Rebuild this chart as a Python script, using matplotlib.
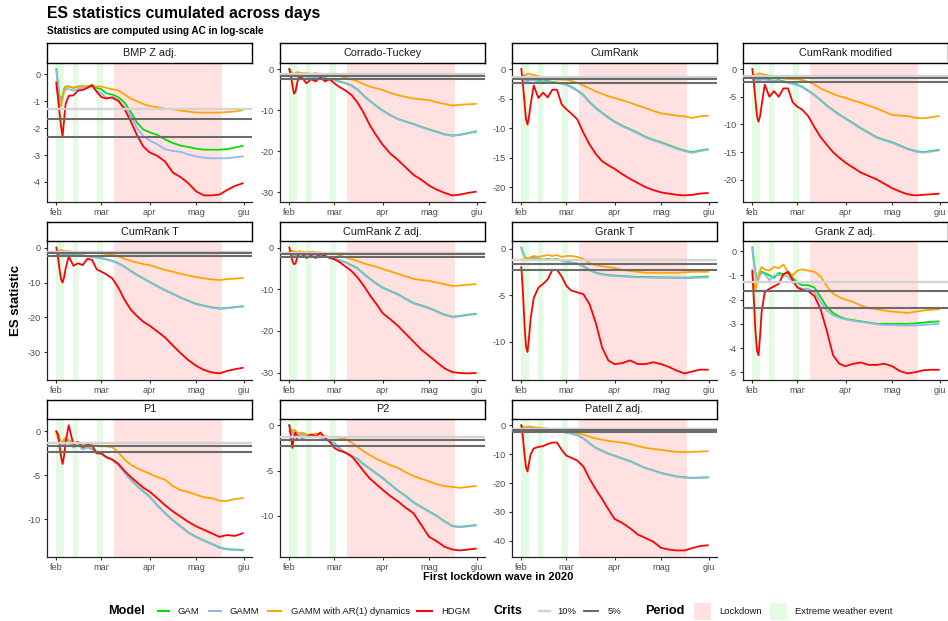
import numpy as np
import matplotlib
matplotlib.use("Agg")
import matplotlib.pyplot as plt
import matplotlib.dates as mdates
from matplotlib.lines import Line2D
from matplotlib.patches import Rectangle

plt.rcParams['font.family'] = ['Liberation Sans', 'DejaVu Sans']
plt.rcParams['axes.unicode_minus'] = False

# ---------------- data ----------------
START_DATE = '2020-02-01'
DAY_OFFSETS = [0, 1, 2, 3, 4, 5, 6,
               8, 11, 14, 17, 20, 23, 26, 29,
               32, 36, 40, 44, 48, 52, 56, 60,
               65, 70, 75, 80, 85, 90, 95, 100, 105, 110, 115, 120]

MONTH_TICKS = ['2020-02-01', '2020-03-01', '2020-04-01', '2020-05-01', '2020-06-01']
MONTH_LABELS = ['feb', 'mar', 'apr', 'mag', 'giu']

LOCKDOWN = [('2020-03-09', '2020-05-18')]
EXTREME_WEATHER = [('2020-02-01', '2020-02-06'), ('2020-02-12', '2020-02-15'),
                   ('2020-02-27', '2020-03-02')]

CRIT_10 = [-1.2816]
CRIT_5 = [-1.6449, -2.3263]

MODELS = ['GAM', 'GAMM', 'GAMM with AR(1) dynamics', 'HDGM']

BMP_GAM = [0.2, -0.3, -0.8, -1.0, -0.8, -0.55, -0.45,
           -0.45, -0.5, -0.45, -0.45, -0.45, -0.4, -0.5, -0.55,
           -0.7, -0.75, -0.85, -1.05, -1.4, -1.8, -2.05, -2.15,
           -2.25, -2.42, -2.55, -2.65, -2.7, -2.76, -2.8, -2.8, -2.8, -2.78, -2.72, -2.66]
BMP_GAMM = [0.15, -0.35, -0.85, -1.05, -0.9, -0.65, -0.55,
            -0.55, -0.6, -0.55, -0.5, -0.5, -0.45, -0.6, -0.7,
            -0.85, -0.9, -1.0, -1.2, -1.55, -2.0, -2.3, -2.45,
            -2.6, -2.78, -2.85, -2.88, -2.98, -3.05, -3.1, -3.12, -3.12, -3.12, -3.08, -3.05]
BMP_AR1 = [-0.4, -0.8, -1.1, -1.2, -0.9, -0.6, -0.45,
           -0.45, -0.5, -0.45, -0.45, -0.45, -0.4, -0.45, -0.45,
           -0.5, -0.55, -0.6, -0.75, -0.9, -1.0, -1.1, -1.18,
           -1.22, -1.28, -1.3, -1.35, -1.38, -1.42, -1.42, -1.42, -1.42, -1.4, -1.38, -1.33]
BMP_HDGM = [-0.3, -0.8, -1.4, -1.9, -2.3, -1.7, -1.1,
            -0.8, -0.78, -0.6, -0.58, -0.5, -0.4, -0.65, -0.84,
            -0.9, -0.85, -0.98, -1.3, -1.75, -2.27, -2.68, -2.9,
            -3.03, -3.24, -3.65, -3.82, -4.05, -4.35, -4.5, -4.5, -4.47, -4.3, -4.15, -4.05]

CT_GAM = [0, -0.5, -1.2, -1.5, -1.5, -1.5, -1.5,
          -1.5, -1.8, -1.8, -2.0, -2.0, -2.2, -2.5, -2.7,
          -3.0, -3.4, -4.0, -5.0, -6.5, -7.8, -9.0, -10.1,
          -11.2, -12.2, -12.8, -13.4, -14.1, -14.7, -15.3, -15.9, -16.2, -16.0, -15.6, -15.3]
CT_GAMM = [-0.1, -0.6, -1.3, -1.6, -1.6, -1.6, -1.6,
           -1.6, -1.9, -1.9, -2.1, -2.1, -2.3, -2.6, -2.8,
           -3.1, -3.5, -4.1, -5.1, -6.6, -7.9, -9.1, -10.2,
           -11.3, -12.2, -12.9, -13.5, -14.2, -14.8, -15.4, -16.0, -16.3, -16.1, -15.7, -15.1]
CT_AR1 = [-0.5, -1.0, -1.5, -1.2, -1.0, -0.8, -0.8,
          -1.0, -1.0, -1.2, -1.0, -1.2, -1.3, -1.3, -1.4,
          -1.7, -2.1, -2.5, -3.0, -3.7, -4.3, -4.7, -5.1,
          -5.8, -6.4, -6.8, -7.2, -7.4, -7.6, -8.1, -8.5, -8.9, -8.7, -8.6, -8.5]
CT_HDGM = [0, -1.5, -4.0, -6.0, -5.5, -3.5, -2.0,
           -2.0, -3.5, -2.5, -3.0, -2.0, -3.0, -2.5, -3.5,
           -4.3, -5.2, -6.3, -8.2, -10.8, -13.8, -16.2, -18.4,
           -20.6, -22.2, -24.0, -25.8, -27.0, -28.4, -29.4, -30.2, -30.8, -30.6, -30.2, -29.9]

CR_GAM = [-1.5, -1.6, -1.8, -1.9, -2.0, -1.9, -1.8,
          -1.8, -2.0, -2.1, -2.0, -2.2, -2.3, -2.4, -2.6,
          -3.0, -3.6, -4.4, -5.6, -6.6, -7.4, -8.2, -8.9,
          -9.6, -10.2, -10.8, -11.5, -12.0, -12.4, -12.9, -13.4, -13.8, -14.1, -13.8, -13.6]
CR_GAMM = [-1.6, -1.7, -1.9, -2.0, -2.1, -2.0, -1.9,
           -1.9, -2.1, -2.2, -2.1, -2.3, -2.4, -2.5, -2.7,
           -3.1, -3.7, -4.5, -5.7, -6.7, -7.5, -8.3, -9.0,
           -9.7, -10.3, -10.9, -11.6, -12.1, -12.5, -13.0, -13.5, -13.9, -14.2, -13.9, -13.7]
CR_AR1 = [-1.5, -1.2, -1.0, -1.0, -0.8, -0.8, -0.9,
          -1.0, -1.2, -1.5, -1.6, -1.7, -1.8, -1.8, -1.8,
          -2.0, -2.3, -2.8, -3.3, -3.8, -4.2, -4.6, -4.9,
          -5.3, -5.7, -6.2, -6.6, -7.1, -7.5, -7.7, -7.9, -8.0, -8.3, -8.0, -7.9]
CR_HDGM = [0, -2.5, -5.5, -8.5, -9.4, -8.0, -6.0,
           -2.8, -4.9, -4.0, -4.8, -3.5, -3.5, -6.0, -6.8,
           -7.5, -8.5, -10.8, -12.8, -14.4, -15.6, -16.3, -16.9,
           -17.8, -18.6, -19.3, -20.0, -20.5, -20.9, -21.1, -21.3, -21.4, -21.3, -21.1, -21.0]

CRM_GAM = [-1.5, -1.6, -1.8, -1.9, -2.0, -1.9, -1.8,
           -1.8, -2.0, -2.1, -2.0, -2.2, -2.4, -2.6, -2.8,
           -3.2, -3.9, -4.7, -5.6, -6.6, -7.4, -8.2, -8.9,
           -9.8, -10.7, -11.5, -12.3, -12.8, -13.2, -13.8, -14.4, -14.8, -15.0, -14.8, -14.6]
CRM_GAMM = [-1.6, -1.7, -1.9, -2.0, -2.1, -2.0, -1.9,
            -1.9, -2.1, -2.2, -2.1, -2.3, -2.5, -2.7, -2.9,
            -3.3, -4.0, -4.8, -5.7, -6.7, -7.5, -8.3, -9.0,
            -9.9, -10.8, -11.6, -12.4, -12.9, -13.3, -13.9, -14.5, -14.9, -15.1, -14.9, -14.7]
CRM_AR1 = [-1.5, -1.2, -1.0, -1.0, -0.8, -0.8, -0.9,
           -1.0, -1.2, -1.5, -1.6, -1.7, -1.8, -1.8, -1.8,
           -2.0, -2.3, -2.8, -3.5, -4.0, -4.5, -4.9, -5.2,
           -5.7, -6.1, -6.6, -7.1, -7.7, -8.3, -8.4, -8.5, -8.8, -8.9, -8.7, -8.5]
CRM_HDGM = [0, -2.5, -5.5, -8.5, -9.5, -8.5, -6.5,
            -2.8, -5.0, -4.0, -5.0, -3.5, -3.5, -6.0, -6.8,
            -7.3, -8.5, -10.5, -12.3, -13.7, -15.0, -16.0, -16.9,
            -17.8, -18.7, -19.3, -19.9, -20.7, -21.5, -22.1, -22.6, -22.8, -22.7, -22.6, -22.5]

CRT_GAM = [-1.5, -1.6, -1.8, -2.0, -2.1, -2.0, -1.9,
           -1.9, -2.1, -2.2, -2.2, -2.4, -2.6, -2.8, -3.0,
           -3.3, -3.8, -4.5, -5.5, -6.7, -7.8, -8.8, -9.8,
           -11.0, -12.2, -13.2, -14.3, -15.2, -16.1, -16.6, -17.1, -17.4, -17.3, -17.0, -16.8]
CRT_GAMM = [-1.6, -1.7, -1.9, -2.1, -2.2, -2.1, -2.0,
            -2.0, -2.2, -2.3, -2.3, -2.5, -2.7, -2.9, -3.1,
            -3.4, -3.9, -4.6, -5.6, -6.8, -7.9, -8.9, -9.9,
            -11.1, -12.3, -13.3, -14.4, -15.3, -16.2, -16.7, -17.2, -17.5, -17.4, -17.1, -16.9]
CRT_AR1 = [-1.2, -1.0, -0.8, -0.7, -0.8, -0.9, -1.0,
           -1.1, -1.2, -1.3, -1.2, -1.4, -1.5, -1.5, -1.6,
           -1.8, -2.0, -2.5, -3.2, -3.8, -4.3, -4.7, -5.0,
           -5.7, -6.4, -6.9, -7.5, -8.0, -8.4, -8.8, -9.1, -9.3, -9.0, -8.9, -8.7]
CRT_HDGM = [0, -2.5, -6.0, -9.0, -10.0, -8.5, -6.0,
            -2.5, -5.2, -4.5, -5.0, -3.2, -3.5, -6.2, -6.9,
            -7.6, -8.8, -11.5, -15.0, -17.8, -19.6, -21.2, -22.3,
            -24.0, -25.7, -28.0, -30.2, -32.2, -33.8, -35.0, -35.7, -36.0, -35.3, -34.8, -34.4]

CRZ_GAM = [-1.5, -1.5, -1.6, -1.7, -1.7, -1.6, -1.6,
           -1.7, -1.8, -1.8, -1.9, -2.0, -2.1, -2.3, -2.6,
           -3.0, -3.5, -4.2, -5.0, -6.3, -7.5, -8.6, -9.6,
           -10.4, -11.2, -12.3, -13.3, -13.9, -14.5, -15.3, -16.1, -16.6, -16.4, -16.1, -15.9]
CRZ_GAMM = [-1.6, -1.6, -1.7, -1.8, -1.8, -1.7, -1.7,
            -1.8, -1.9, -1.9, -2.0, -2.1, -2.2, -2.4, -2.7,
            -3.1, -3.6, -4.3, -5.1, -6.4, -7.6, -8.7, -9.7,
            -10.5, -11.3, -12.4, -13.4, -14.0, -14.6, -15.4, -16.2, -16.7, -16.5, -16.2, -16.0]
CRZ_AR1 = [-1.0, -0.9, -0.8, -0.9, -1.0, -1.0, -0.9,
           -1.0, -1.1, -1.0, -1.1, -1.2, -1.3, -1.3, -1.4,
           -1.8, -2.3, -2.8, -3.2, -3.8, -4.2, -4.6, -5.1,
           -5.7, -6.3, -6.9, -7.5, -7.8, -8.0, -8.4, -8.8, -9.2, -9.1, -8.9, -8.8]
CRZ_HDGM = [0, -1.5, -3.2, -4.0, -3.8, -2.5, -1.5,
            -1.5, -2.5, -2.0, -2.5, -1.5, -2.0, -2.5, -2.8,
            -3.4, -4.5, -5.6, -7.2, -9.2, -11.5, -13.5, -15.7,
            -17.2, -18.8, -20.7, -22.6, -24.5, -26.0, -27.5, -29.0, -29.9, -30.1, -30.2, -30.1]

GT_GAM = [0.1, -0.4, -0.8, -1.1, -1.2, -1.1, -1.0,
          -1.0, -1.1, -1.2, -1.1, -1.2, -1.1, -1.3, -1.4,
          -1.5, -1.6, -1.9, -2.3, -2.6, -2.75, -2.85, -2.9,
          -2.95, -3.0, -3.05, -3.05, -3.08, -3.1, -3.1, -3.12, -3.12, -3.1, -3.05, -3.0]
GT_GAMM = [0.05, -0.45, -0.85, -1.15, -1.25, -1.15, -1.05,
           -1.05, -1.15, -1.25, -1.15, -1.25, -1.15, -1.35, -1.45,
           -1.55, -1.65, -1.95, -2.35, -2.65, -2.8, -2.9, -2.95,
           -3.0, -3.05, -3.1, -3.1, -3.13, -3.15, -3.15, -3.17, -3.17, -3.17, -3.13, -3.1]
GT_AR1 = [-1.2, -1.2, -1.1, -1.0, -1.0, -1.1, -0.9,
          -0.8, -0.9, -0.8, -0.7, -0.8, -0.7, -0.9, -0.8,
          -0.8, -0.9, -1.1, -1.6, -1.8, -1.9, -2.0, -2.1,
          -2.3, -2.4, -2.5, -2.6, -2.6, -2.6, -2.6, -2.6, -2.55, -2.5, -2.5, -2.5]
GT_HDGM = [-2.0, -4.5, -8.0, -10.5, -11.1, -9.5, -7.5,
           -5.3, -4.2, -3.8, -3.3, -2.3, -2.3, -3.0, -4.0,
           -4.5, -4.7, -4.9, -6.0, -8.0, -10.6, -12.0, -12.4,
           -12.3, -12.0, -12.4, -12.4, -12.2, -12.4, -12.7, -13.1, -13.4, -13.2, -13.0, -13.0]

GZ_GAM = [0.15, -0.4, -0.9, -1.2, -1.1, -0.9, -0.85,
          -0.9, -1.0, -1.1, -0.9, -0.95, -0.9, -1.1, -1.3,
          -1.4, -1.4, -1.5, -1.9, -2.3, -2.55, -2.7, -2.8,
          -2.85, -2.9, -2.95, -3.0, -3.0, -3.0, -3.0, -3.0, -2.98, -2.95, -2.92, -2.9]
GZ_GAMM = [0.1, -0.45, -0.95, -1.25, -1.15, -1.0, -0.9,
           -0.95, -1.2, -1.0, -1.0, -1.0, -1.05, -1.3, -1.45,
           -1.55, -1.55, -1.7, -2.1, -2.45, -2.65, -2.75, -2.82,
           -2.88, -2.92, -2.97, -3.02, -3.05, -3.05, -3.07, -3.07, -3.07, -3.05, -3.02, -3.0]
GZ_AR1 = [-0.9, -1.3, -1.6, -1.3, -1.0, -0.8, -0.65,
          -0.75, -0.8, -0.65, -0.7, -0.55, -0.85, -1.0, -0.8,
          -0.75, -0.8, -0.85, -1.05, -1.45, -1.75, -1.9, -2.0,
          -2.1, -2.25, -2.35, -2.4, -2.45, -2.5, -2.52, -2.55, -2.5, -2.45, -2.42, -2.4]
GZ_HDGM = [-0.8, -2.0, -3.3, -4.1, -4.3, -3.5, -2.5,
           -1.7, -1.55, -1.45, -1.35, -0.95, -0.85, -1.2, -1.5,
           -1.6, -1.65, -1.85, -2.4, -3.3, -4.3, -4.65, -4.75,
           -4.65, -4.6, -4.7, -4.7, -4.65, -4.75, -4.95, -5.05, -5.0, -4.92, -4.9, -4.9]

P1_GAM = [0, -0.3, -0.8, -1.3, -1.5, -1.2, -1.0,
          -1.3, -1.8, -1.5, -2.0, -1.8, -2.0, -2.3, -2.5,
          -2.9, -3.2, -3.8, -4.7, -5.5, -6.2, -6.8, -7.4,
          -8.4, -9.3, -10.1, -10.8, -11.5, -12.0, -12.4, -12.8, -13.2, -13.4, -13.45, -13.5]
P1_GAMM = [0, -0.35, -0.85, -1.35, -1.55, -1.25, -1.05,
           -1.35, -1.85, -1.55, -2.05, -1.85, -2.05, -2.35, -2.55,
           -2.95, -3.25, -3.85, -4.75, -5.55, -6.25, -6.85, -7.45,
           -8.45, -9.35, -10.15, -10.85, -11.55, -12.05, -12.45, -12.85, -13.25, -13.45, -13.5, -13.55]
P1_AR1 = [-0.3, -0.7, -1.0, -1.3, -1.1, -0.9, -0.7,
          -1.0, -1.3, -1.2, -1.5, -1.5, -1.6, -1.6, -1.7,
          -1.7, -1.8, -2.4, -3.2, -3.8, -4.2, -4.5, -4.8,
          -5.2, -5.5, -6.2, -6.7, -6.9, -7.2, -7.5, -7.6, -7.9, -7.9, -7.7, -7.6]
P1_HDGM = [0, -0.3, -1.5, -2.8, -3.7, -2.8, -1.2,
           0.7, -1.5, -1.2, -1.8, -1.5, -1.6, -2.5, -2.5,
           -2.9, -3.2, -3.7, -4.5, -5.2, -5.8, -6.4, -6.85,
           -7.6, -8.4, -9.1, -9.7, -10.3, -10.8, -11.2, -11.6, -12.0, -11.8, -11.9, -11.6]

P2_GAM = [0, -0.5, -0.9, -0.8, -0.7, -0.9, -1.0,
          -1.0, -1.2, -1.1, -1.2, -1.3, -1.5, -1.8, -2.0,
          -2.5, -3.0, -3.4, -3.7, -4.3, -4.8, -5.3, -5.8,
          -6.5, -7.2, -7.8, -8.5, -9.0, -9.5, -10.0, -10.6, -11.1, -11.2, -11.1, -11.0]
P2_GAMM = [-0.05, -0.55, -0.95, -0.85, -0.75, -0.95, -1.05,
           -1.05, -1.25, -1.15, -1.25, -1.35, -1.55, -1.85, -2.05,
           -2.55, -3.05, -3.45, -3.75, -4.35, -4.85, -5.35, -5.85,
           -6.55, -7.25, -7.85, -8.55, -9.05, -9.55, -10.05, -10.65, -11.15, -11.25, -11.15, -11.05]
P2_AR1 = [-0.7, -0.5, -0.6, -0.5, -0.6, -0.8, -0.9,
          -0.8, -1.0, -1.1, -0.9, -1.1, -1.2, -1.3, -1.3,
          -1.4, -1.5, -1.9, -2.4, -2.9, -3.3, -3.7, -4.0,
          -4.4, -4.7, -5.2, -5.6, -5.9, -6.2, -6.5, -6.7, -6.8, -6.9, -6.8, -6.7]
P2_HDGM = [0, -1.2, -2.5, -1.2, -0.8, -1.5, -1.2,
           -1.4, -1.3, -1.0, -1.2, -0.8, -1.4, -1.8, -2.5,
           -2.8, -3.0, -3.4, -4.2, -5.1, -5.9, -6.5, -7.1,
           -7.8, -8.4, -9.1, -9.7, -11.0, -12.3, -12.8, -13.4, -13.7, -13.8, -13.7, -13.6]

PZ_GAM = [0, -0.5, -1.0, -1.2, -1.0, -0.8, -0.8,
          -1.0, -1.0, -1.2, -1.5, -1.5, -1.8, -2.0, -2.5,
          -2.8, -3.4, -4.5, -6.3, -7.8, -8.8, -9.8, -10.5,
          -11.5, -12.4, -13.6, -14.8, -15.6, -16.5, -17.1, -17.7, -18.0, -18.2, -18.1, -18.0]
PZ_GAMM = [-0.1, -0.6, -1.1, -1.3, -1.1, -0.9, -0.9,
           -1.1, -1.1, -1.3, -1.6, -1.6, -1.9, -2.1, -2.6,
           -2.9, -3.5, -4.6, -6.4, -7.9, -8.9, -9.9, -10.6,
           -11.6, -12.5, -13.7, -14.9, -15.7, -16.6, -17.2, -17.8, -18.1, -18.3, -18.2, -18.1]
PZ_AR1 = [-1.0, -0.8, -0.7, -0.5, -0.5, -0.4, -0.5,
          -0.7, -0.8, -1.0, -1.2, -1.3, -1.5, -1.8, -2.0,
          -2.3, -2.8, -3.2, -4.0, -4.6, -5.0, -5.4, -5.7,
          -6.0, -6.5, -7.2, -7.8, -8.2, -8.5, -8.9, -9.2, -9.3, -9.2, -9.1, -9.0]
PZ_HDGM = [0, -4.0, -10.0, -14.5, -16.0, -13.0, -10.0,
           -8.0, -7.5, -7.2, -6.5, -6.0, -6.0, -8.5, -10.5,
           -11.2, -12.2, -14.3, -18.6, -22.2, -25.5, -29.0, -32.4,
           -33.8, -35.6, -37.8, -39.0, -40.3, -42.4, -43.0, -43.3, -43.3, -42.5, -41.8, -41.5]

PANEL_TITLES = ['BMP Z adj.', 'Corrado-Tuckey', 'CumRank', 'CumRank modified',
                'CumRank T', 'CumRank Z adj.', 'Grank T', 'Grank Z adj.',
                'P1', 'P2', 'Patell Z adj.']
PANEL_SERIES = [
    (BMP_GAM, BMP_GAMM, BMP_AR1, BMP_HDGM),
    (CT_GAM, CT_GAMM, CT_AR1, CT_HDGM),
    (CR_GAM, CR_GAMM, CR_AR1, CR_HDGM),
    (CRM_GAM, CRM_GAMM, CRM_AR1, CRM_HDGM),
    (CRT_GAM, CRT_GAMM, CRT_AR1, CRT_HDGM),
    (CRZ_GAM, CRZ_GAMM, CRZ_AR1, CRZ_HDGM),
    (GT_GAM, GT_GAMM, GT_AR1, GT_HDGM),
    (GZ_GAM, GZ_GAMM, GZ_AR1, GZ_HDGM),
    (P1_GAM, P1_GAMM, P1_AR1, P1_HDGM),
    (P2_GAM, P2_GAMM, P2_AR1, P2_HDGM),
    (PZ_GAM, PZ_GAMM, PZ_AR1, PZ_HDGM),
]

# ---------------- style ----------------
MODEL_COLORS = ['#00E000', '#8FB9EE', '#FFA500', '#FF0000']
CRIT10_COLOR = '#D3D3D3'
CRIT5_COLOR = '#6B6B6B'
LOCK_COLOR = '#FFE1E1'
EXTREME_COLOR = '#E2FBE2'
Y_STEPS = [1, 10, 5, 5, 10, 10, 5, 1, 5, 5, 10]

W, H = 948, 621
LEFTS = [47, 280, 512, 743]
PW = 205
TOPS = [62.7, 241.3, 419.0]
BOTS = [201.7, 379.7, 556.7]
STRIP_H = 19.5

fig = plt.figure(figsize=(W / 100, H / 100), dpi=100)

start = np.datetime64(START_DATE)
dates = start + np.array(DAY_OFFSETS).astype('timedelta64[D]')
xnum = mdates.date2num(dates)
xpad = 0.05 * (xnum[-1] - xnum[0])
xlim = (xnum[0] - xpad, xnum[-1] + xpad)
tick_num = mdates.date2num(np.array(MONTH_TICKS, dtype='datetime64[D]'))


def to_num(s):
    return mdates.date2num(np.datetime64(s))


for i, (title, series) in enumerate(zip(PANEL_TITLES, PANEL_SERIES)):
    r, c = divmod(i, 4)
    l = LEFTS[c]
    t, b = TOPS[r], BOTS[r]
    ax = fig.add_axes([l / W, 1 - b / H, PW / W, (b - t) / H])
    for s, e in LOCKDOWN:
        ax.axvspan(to_num(s), to_num(e), color=LOCK_COLOR, lw=0, zorder=0)
    for s, e in EXTREME_WEATHER:
        ax.axvspan(to_num(s), to_num(e), color=EXTREME_COLOR, lw=0, zorder=0)
    for vals, col in zip(series, MODEL_COLORS):
        ax.plot(xnum, vals, color=col, lw=1.3, zorder=2, solid_joinstyle='round')
    for v in CRIT_10:
        ax.axhline(v, color=CRIT10_COLOR, lw=1.7, zorder=3)
    for v in CRIT_5:
        ax.axhline(v, color=CRIT5_COLOR, lw=1.5, zorder=3)
    allv = np.concatenate([np.concatenate(series), CRIT_10, CRIT_5])
    lo, hi = allv.min(), allv.max()
    pad = 0.05 * (hi - lo)
    ax.set_ylim(lo - pad, hi + pad)
    ax.set_xlim(*xlim)
    ax.yaxis.set_major_locator(matplotlib.ticker.MultipleLocator(Y_STEPS[i]))
    ax.yaxis.set_major_formatter(matplotlib.ticker.FuncFormatter(lambda v, p: '%g' % v))
    ax.set_xticks(tick_num)
    ax.set_xticklabels(MONTH_LABELS)
    for sp in ['top', 'right']:
        ax.spines[sp].set_visible(False)
    for sp in ['left', 'bottom']:
        ax.spines[sp].set_color('#222222')
        ax.spines[sp].set_linewidth(0.9)
    ax.tick_params(axis='both', colors='#333333', labelcolor='#4D4D4D',
                   labelsize=6.6, length=2.5, width=0.8, pad=2)
    ax.set_facecolor('white')

    sax = fig.add_axes([l / W, 1 - t / H, PW / W, STRIP_H / H])
    sax.set_xticks([])
    sax.set_yticks([])
    for sp in sax.spines.values():
        sp.set_color('black')
        sp.set_linewidth(1.0)
    sax.text(0.5, 0.5, title, ha='center', va='center', fontsize=7.8,
             color='#1A1A1A', transform=sax.transAxes)

# titles
fig.text(47 / W, 1 - 18.3 / H, 'ES statistics cumulated across days', fontsize=11.3,
         fontweight='bold', va='baseline', ha='left')
fig.text(47 / W, 1 - 34.5 / H, 'Statistics are computed using AC in log-scale', fontsize=7.2,
         fontweight='bold', va='baseline', ha='left')
fig.text(498 / W, 1 - 577.5 / H, 'First lockdown wave in 2020', fontsize=8, fontweight='bold',
         ha='center', va='center')
fig.text(16 / W, 1 - 300 / H, 'ES statistic', fontsize=9.5, fontweight='bold',
         ha='center', va='center', rotation=90)

# legend (drawn in pixel space)
lax = fig.add_axes([0, 0, 1, 1])
lax.set_xlim(0, W)
lax.set_ylim(H, 0)
lax.axis('off')
ly = 611
lax.text(108, ly, 'Model', fontsize=9.1, fontweight='bold', va='center', ha='left')
model_keys = [(158, 169, 178), (209, 221, 230), (268, 281, 291), (417, 432, 441)]
for (x0, x1, tx), name, col in zip(model_keys, MODELS, MODEL_COLORS):
    lax.add_line(Line2D([x0, x1], [ly, ly], color=col, lw=1.5))
    lax.text(tx, ly, name, fontsize=6.8, va='center', ha='left', color='#1A1A1A')
lax.text(494, ly, 'Crits', fontsize=9.1, fontweight='bold', va='center', ha='left')
lax.add_line(Line2D([539, 550], [ly, ly], color=CRIT10_COLOR, lw=1.7))
lax.text(557, ly, '10%', fontsize=6.8, va='center', ha='left', color='#1A1A1A')
lax.add_line(Line2D([584, 598], [ly, ly], color=CRIT5_COLOR, lw=1.5))
lax.text(608, ly, '5%', fontsize=6.8, va='center', ha='left', color='#1A1A1A')
lax.text(645, ly, 'Period', fontsize=9.1, fontweight='bold', va='center', ha='left')
lax.add_patch(Rectangle((694, ly - 8.5), 17, 17, color=LOCK_COLOR, lw=0))
lax.text(719, ly, 'Lockdown', fontsize=6.8, va='center', ha='left', color='#1A1A1A')
lax.add_patch(Rectangle((770, ly - 8.5), 17, 17, color=EXTREME_COLOR, lw=0))
lax.text(795, ly, 'Extreme weather event', fontsize=6.8, va='center', ha='left', color='#1A1A1A')

fig.savefig('out.png', dpi=100, facecolor='white')
